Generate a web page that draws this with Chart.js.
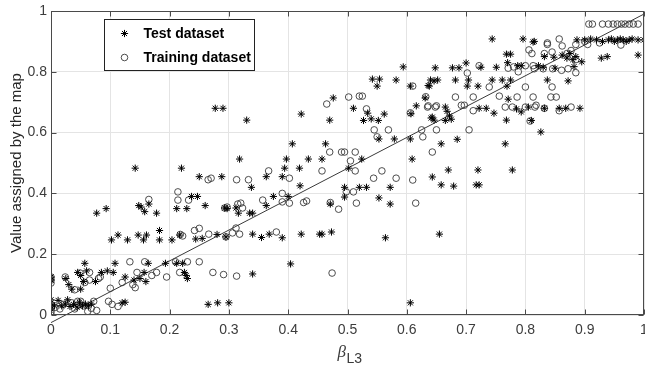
<!DOCTYPE html>
<html>
<head>
<meta charset="utf-8">
<script src="https://cdn.jsdelivr.net/npm/chart.js@4.4.1/dist/chart.umd.min.js"></script>
<style>
  html, body { margin: 0; padding: 0; background: #fff; }
  #wrap { width: 645px; height: 367px; }
</style>
</head>
<body>
<div id="wrap"><canvas id="c" width="645" height="367"></canvas></div>
<script>
// Series names
const seriesNames = ['Test dataset', 'Training dataset'];

// Test dataset: [beta_L3, value assigned by the map]
const testPoints = [
  [0,0.02],[0,0.03],[0,0.04],[0,0.05],[0.006,0.03],[0.012,0.048],[0.018,0.03],[0.024,0.036],[0.028,0.05],
  [0.032,0.028],[0.038,0.035],[0.044,0.026],[0.048,0.042],[0.053,0.03],[0.058,0.036],[0.063,0.03],[0.068,0.036],
  [0.12,0.04],[0.125,0.042],[0,0.115],[0,0.125],
  [0.025,0.12],[0.03,0.1],[0.035,0.085],[0.045,0.14],[0.05,0.13],[0.055,0.11],[0.06,0.145],[0.057,0.17],
  [0.05,0.085],[0.075,0.11],[0.085,0.14],[0.095,0.145],[0.105,0.14],[0.108,0.17],[0.125,0.125],[0.14,0.115],
  [0.15,0.12],[0.16,0.11],[0.157,0.14],[0.164,0.17],[0.193,0.17],[0.212,0.17],[0.222,0.17],[0.225,0.14],
  [0.23,0.12],[0.228,0.13],
  [0.102,0.247],[0.113,0.263],[0.129,0.247],[0.147,0.263],[0.156,0.247],[0.161,0.263],[0.183,0.278],
  [0.183,0.247],[0.204,0.247],[0.217,0.263],[0.244,0.25],[0.255,0.252],[0.28,0.265],[0.295,0.257],
  [0.077,0.335],[0.093,0.35],[0.142,0.483],[0.148,0.36],[0.152,0.355],[0.158,0.34],[0.165,0.365],[0.178,0.335],
  [0.212,0.35],[0.229,0.35],[0.22,0.483],[0.237,0.39],[0.247,0.39],[0.25,0.455],[0.26,0.36],[0.288,0.455],
  [0.293,0.352],[0.297,0.35],
  [0.312,0.352],[0.316,0.335],[0.335,0.335],[0.34,0.335],[0.338,0.42],[0.34,0.266],[0.355,0.255],[0.368,0.266],
  [0.363,0.36],[0.363,0.455],[0.375,0.39],[0.39,0.254],[0.39,0.455],[0.394,0.483],[0.397,0.513],[0.4,0.39],
  [0.407,0.563],[0.318,0.513],[0.42,0.425],[0.419,0.483],[0.422,0.266],[0.434,0.513],[0.453,0.266],[0.457,0.266],
  [0.457,0.513],[0.463,0.563],[0.471,0.365],[0.473,0.273],
  [0.277,0.68],[0.29,0.68],[0.33,0.641],[0.422,0.661],[0.47,0.641],[0.476,0.714],
  [0.265,0.035],[0.281,0.04],[0.3,0.04],[0.34,0.135],[0.404,0.168],[0.606,0.04],[0.655,0.266],[0.564,0.254],
  [0.495,0.388],[0.495,0.42],[0.502,0.483],[0.52,0.42],[0.532,0.42],[0.524,0.513],[0.553,0.385],[0.572,0.42],
  [0.572,0.365],[0.579,0.579],[0.553,0.579],[0.606,0.579],[0.609,0.513],[0.643,0.454],[0.658,0.428],[0.679,0.424],
  [0.717,0.428],[0.722,0.428],[0.67,0.477],[0.72,0.477],[0.778,0.477],[0.658,0.563],[0.685,0.578],[0.766,0.563],
  [0.826,0.602],
  [0.51,0.68],[0.527,0.64],[0.534,0.664],[0.54,0.645],[0.552,0.64],[0.562,0.661],[0.607,0.662],[0.616,0.688],
  [0.631,0.714],[0.643,0.651],[0.646,0.641],[0.542,0.776],[0.554,0.776],[0.55,0.753],[0.582,0.773],[0.606,0.753],
  [0.594,0.816],[0.636,0.755],[0.646,0.77],[0.641,0.648],
  [0.648,0.813],[0.677,0.813],[0.688,0.813],[0.7,0.829],[0.725,0.815],[0.751,0.815],[0.744,0.908],[0.768,0.858],
  [0.775,0.858],[0.77,0.83],[0.787,0.82],[0.793,0.82],[0.796,0.908],[0.813,0.898],[0.64,0.773],[0.652,0.773],
  [0.638,0.753],[0.682,0.773],[0.704,0.773],[0.702,0.753],[0.72,0.753],[0.744,0.773],[0.761,0.773],[0.775,0.773],
  [0.769,0.753],[0.665,0.684],[0.668,0.67],[0.672,0.655],[0.665,0.64],[0.675,0.644],[0.722,0.68],[0.734,0.68],
  [0.747,0.664],[0.768,0.641],[0.771,0.71],[0.785,0.678],[0.793,0.668],[0.805,0.684],[0.81,0.64],
  [0.822,0.82],[0.815,0.9],[0.832,0.85],[0.848,0.848],[0.83,0.815],[0.85,0.812],[0.837,0.773],[0.872,0.77],
  [0.832,0.68],[0.857,0.68],[0.868,0.68],[0.892,0.68],[0.862,0.855],[0.87,0.845],[0.875,0.86],[0.88,0.84],
  [0.885,0.85],[0.882,0.817],[0.895,0.833],[0.928,0.845],[0.938,0.85],[0.99,0.855],
  [0.887,0.905],[0.9,0.905],[0.91,0.908],[0.92,0.905],[0.93,0.9],[0.94,0.905],[0.945,0.908],[0.95,0.9],
  [0.955,0.905],[0.96,0.908],[0.965,0.905],[0.97,0.9],[0.975,0.905],[0.98,0.908],[0.99,0.905],[1,0.905]
];

// Training dataset: [beta_L3, value assigned by the map]
const trainingPoints = [
  [0,0],[0,0.01],[0,0.105],[0,0.115],[0,0.125],[0.007,0.025],[0.015,0.02],[0.02,0.035],[0.035,0.04],[0.04,0.02],
  [0.045,0.045],[0.05,0.045],[0.055,0.03],[0.062,0.012],[0.068,0.022],[0.072,0.045],[0.077,0.015],[0.097,0.045],
  [0.103,0.035],[0.113,0.028],
  [0.024,0.125],[0.04,0.083],[0.049,0.138],[0.057,0.107],[0.065,0.14],[0.083,0.125],[0.1,0.088],[0.12,0.107],
  [0.133,0.175],[0.138,0.1],[0.142,0.09],[0.145,0.14],[0.158,0.175],[0.17,0.13],[0.178,0.14],[0.195,0.125],
  [0.21,0.175],[0.217,0.14],[0.23,0.175],[0.25,0.175],[0.273,0.14],[0.291,0.133],[0.313,0.128],[0.065,0.115],
  [0.08,0.12],
  [0.218,0.265],[0.222,0.26],[0.242,0.278],[0.25,0.285],[0.266,0.266],[0.295,0.257],[0.306,0.27],[0.312,0.286],
  [0.318,0.266],[0.38,0.273],
  [0.165,0.38],[0.214,0.405],[0.214,0.378],[0.232,0.378],[0.265,0.445],[0.27,0.45],[0.293,0.352],[0.297,0.355],
  [0.313,0.445],[0.315,0.365],[0.32,0.368],[0.323,0.352],[0.333,0.445],[0.357,0.378],[0.367,0.474],[0.39,0.4],
  [0.39,0.372],[0.402,0.368],[0.402,0.45],[0.426,0.37],[0.431,0.375],[0.457,0.474],[0.471,0.37],[0.474,0.138],
  [0.485,0.348],[0.498,0.405],[0.51,0.405],[0.513,0.474],[0.515,0.368],[0.544,0.45],[0.558,0.474],[0.582,0.45],
  [0.61,0.444],[0.615,0.368],
  [0.465,0.694],[0.502,0.717],[0.52,0.72],[0.525,0.72],[0.532,0.678],[0.47,0.536],[0.49,0.536],[0.495,0.536],
  [0.513,0.536],[0.505,0.507],[0.545,0.609],[0.569,0.609],[0.55,0.586],[0.606,0.665],[0.61,0.753],[0.632,0.718],
  [0.636,0.688],[0.65,0.688],[0.625,0.609],[0.627,0.586],[0.65,0.609],[0.643,0.536],[0.635,0.684],[0.648,0.684],
  [0.705,0.609],[0.682,0.717],[0.692,0.69],[0.697,0.69],[0.712,0.717],[0.712,0.672],
  [0.702,0.796],[0.722,0.82],[0.739,0.75],[0.756,0.72],[0.766,0.684],[0.778,0.684],[0.771,0.812],[0.78,0.816],
  [0.788,0.8],[0.786,0.717],[0.8,0.82],[0.8,0.75],[0.8,0.684],[0.806,0.872],[0.811,0.86],[0.813,0.82],
  [0.813,0.717],[0.816,0.684],[0.808,0.638],[0.818,0.69],[0.815,0.81],[0.83,0.81],[0.832,0.68],[0.837,0.895],
  [0.837,0.89],[0.845,0.75],[0.843,0.717],[0.852,0.717],[0.846,0.81],[0.832,0.86],[0.845,0.865],[0.857,0.908],
  [0.862,0.885],[0.857,0.672],[0.861,0.805],[0.872,0.81],[0.87,0.86],[0.877,0.87],[0.885,0.84],[0.877,0.684],
  [0.885,0.797],[0.885,0.89],[0.9,0.9],[0.905,0.89],[0.925,0.895],[0.961,0.888],
  [0.907,0.957],[0.913,0.957],[0.93,0.957],[0.94,0.957],[0.948,0.957],[0.955,0.957],[0.962,0.957],[0.968,0.957],
  [0.975,0.957],[0.982,0.957],[0.99,0.957]
];

// Reference line endpoints
const referenceLine = [[0,-0.025],[1,0.99]];

// Tick values
const xTicks = [0,0.1,0.2,0.3,0.4,0.5,0.6,0.7,0.8,0.9,1];
const yTicks = [0,0.2,0.4,0.6,0.8,1];

const FONT = '"Liberation Sans", Arial, sans-serif';
const toXY = arr => arr.map(([x, y]) => ({ x, y }));

// Axes box with inward tick marks on all four sides
const framePlugin = {
  id: 'frame',
  afterDatasetsDraw(chart) {
    const { ctx, chartArea: a, scales } = chart;
    const L = Math.round(a.left) + 0.5, R = Math.round(a.right) - 0.5;
    const T = Math.round(a.top) + 0.5, B = Math.round(a.bottom) - 0.5;
    ctx.save();
    ctx.strokeStyle = '#4a4a4a';
    ctx.lineWidth = 1;
    ctx.strokeRect(L, T, R - L, B - T);
    ctx.beginPath();
    xTicks.forEach(v => {
      const px = Math.round(scales.x.getPixelForValue(v)) + 0.5;
      ctx.moveTo(px, B); ctx.lineTo(px, B - 5);
      ctx.moveTo(px, T); ctx.lineTo(px, T + 5);
    });
    yTicks.forEach(v => {
      const py = Math.round(scales.y.getPixelForValue(v)) + 0.5;
      ctx.moveTo(L, py); ctx.lineTo(L + 5, py);
      ctx.moveTo(R, py); ctx.lineTo(R - 5, py);
    });
    ctx.stroke();
    ctx.restore();
  }
};

// Boxed legend inside the upper-left of the plot area
const boxLegendPlugin = {
  id: 'boxLegend',
  afterDraw(chart) {
    const { ctx, chartArea: a } = chart;
    const x0 = Math.round(a.left) + 53.5, y0 = Math.round(a.top) + 8.5;
    const w = 150, h = 51;
    ctx.save();
    ctx.fillStyle = '#fff';
    ctx.fillRect(x0, y0, w, h);
    ctx.strokeStyle = '#222';
    ctx.lineWidth = 1;
    ctx.strokeRect(x0, y0, w, h);
    const rows = [y0 + 14, y0 + 38];
    [0, 1].forEach(i => {
      const ds = chart.data.datasets[i];
      ctx.strokeStyle = ds.borderColor;
      ctx.fillStyle = ds.backgroundColor;
      ctx.lineWidth = ds.borderWidth;
      Chart.helpers.drawPoint(ctx, { pointStyle: ds.pointStyle, radius: ds.pointRadius, rotation: 0, borderWidth: ds.borderWidth }, x0 + 20, rows[i]);
      ctx.fillStyle = '#000';
      ctx.font = 'bold 14px ' + FONT;
      ctx.textBaseline = 'middle';
      ctx.textAlign = 'left';
      ctx.fillText(ds.label, x0 + 39, rows[i] + 1);
    });
    ctx.restore();
  }
};

// x-axis title: italic beta with subscript L3
const xTitlePlugin = {
  id: 'xTitle',
  afterDraw(chart) {
    const { ctx, chartArea: a } = chart;
    ctx.save();
    const main = 'β', sub = 'L3';
    const mainFont = 'italic 17px "Liberation Serif", "DejaVu Serif", serif';
    const subFont = '14px ' + FONT;
    ctx.font = mainFont; const wm = ctx.measureText(main).width;
    ctx.font = subFont; const ws = ctx.measureText(sub).width;
    const cx = (a.left + a.right) / 2 + 2;
    const x = cx - (wm + ws) / 2;
    ctx.fillStyle = '#3a3a3a';
    ctx.textBaseline = 'alphabetic';
    ctx.textAlign = 'left';
    ctx.font = mainFont; ctx.fillText(main, x, 357);
    ctx.font = subFont; ctx.fillText(sub, x + wm + 0.5, 363);
    ctx.restore();
  }
};

new Chart(document.getElementById('c').getContext('2d'), {
  type: 'scatter',
  data: {
    datasets: [
      {
        label: seriesNames[0],
        data: toXY(testPoints),
        pointStyle: 'star',
        pointRadius: 3.6,
        borderColor: '#000',
        backgroundColor: '#000',
        borderWidth: 1,
        order: 1
      },
      {
        label: seriesNames[1],
        data: toXY(trainingPoints),
        pointStyle: 'circle',
        pointRadius: 3.3,
        borderColor: '#3a3a3a',
        backgroundColor: 'rgba(0,0,0,0)',
        borderWidth: 0.9,
        order: 2
      },
      {
        label: 'reference',
        data: toXY(referenceLine),
        showLine: true,
        pointRadius: 0,
        borderColor: '#3a3a3a',
        borderWidth: 1,
        clip: false,
        order: 3
      }
    ]
  },
  options: {
    responsive: false,
    devicePixelRatio: 1,
    animation: false,
    events: [],
    layout: { autoPadding: false, padding: { left: 0, right: 1, top: 11, bottom: 0 } },
    plugins: { legend: { display: false }, tooltip: { enabled: false } },
    scales: {
      x: {
        type: 'linear', min: 0, max: 1,
        afterBuildTicks: s => { s.ticks = xTicks.map(v => ({ value: v })); },
        afterFit: s => { s.height = 52; s.paddingLeft = 0; s.paddingRight = 0; },
        grid: { color: '#e4e4e4', lineWidth: 1, drawTicks: false },
        border: { display: false },
        ticks: {
          color: '#3c3c3c', padding: 7, maxRotation: 0, autoSkip: false,
          font: { family: FONT, size: 14 },
          callback: v => String(+v.toFixed(1))
        }
      },
      y: {
        type: 'linear', min: 0, max: 1,
        afterBuildTicks: s => { s.ticks = yTicks.map(v => ({ value: v })); },
        afterFit: s => { s.width = 51; s.paddingTop = 0; s.paddingBottom = 0; },
        grid: { color: '#e4e4e4', lineWidth: 1, drawTicks: false },
        border: { display: false },
        ticks: {
          color: '#3c3c3c', padding: 4, autoSkip: false,
          font: { family: FONT, size: 14 },
          callback: v => String(+v.toFixed(1))
        },
        title: {
          display: true, text: 'Value assigned by the map', color: '#262626',
          font: { family: FONT, size: 15 }, padding: { top: 8, bottom: 0 }
        }
      }
    }
  },
  plugins: [framePlugin, boxLegendPlugin, xTitlePlugin]
});
</script>
</body>
</html>
